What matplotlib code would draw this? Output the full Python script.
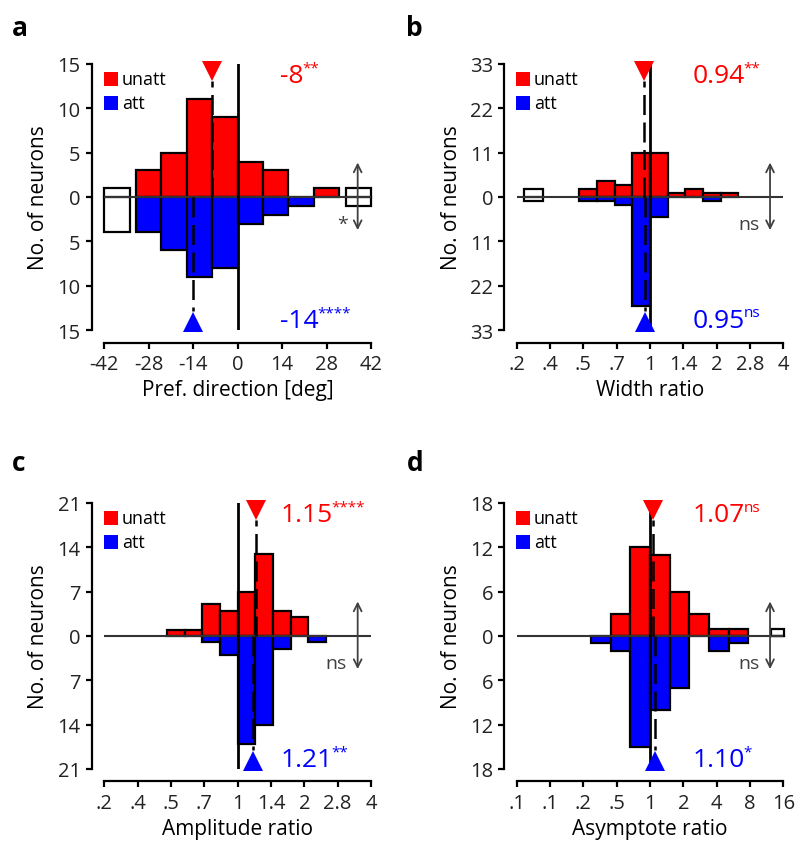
import numpy as np
import matplotlib.pyplot as plt

plt.rcParams['font.family'] = ['Open Sans', 'DejaVu Sans']

# --- data ---------------------------------------------------------------
# a: preferred direction difference [deg]
edges_a = [-32, -24, -16, -8, 0, 8, 16, 24, 32]
unatt_a = [3, 5, 11, 9, 4, 3, 0, 1]
att_a = [4, 6, 9, 8, 3, 2, 1, 0]
outl_a = [(-42, -34, 1, 4), (34, 42, 1, 1)]   # left, right, unatt, att
mean_a = (-8, -14)                              # unatt, att

# b: width ratio (bins in log2 units)
edges_b = [-1.06, -0.795, -0.53, -0.265, 0, 0.265, 0.53, 0.795, 1.06, 1.325]
unatt_b = [2, 4, 3, 11, 11, 1, 2, 1, 1]
att_b = [1, 1, 2, 27, 5, 0, 0, 1, 0]
outl_b = [(-1.885, -1.61, 2, 1)]
mean_b = (0.94, 0.95)

# c: amplitude ratio
edges_c = [-1.06, -0.795, -0.53, -0.265, 0, 0.265, 0.53, 0.795, 1.06, 1.325]
unatt_c = [1, 1, 5, 4, 7, 13, 4, 3, 0]
att_c = [0, 0, 1, 3, 17, 14, 2, 0, 1]
outl_c = []
mean_c = (1.21, 1.17)

# d: asymptote ratio
edges_d = [-1.77, -1.18, -0.59, 0, 0.59, 1.18, 1.77, 2.36, 2.95]
unatt_d = [0, 3, 12, 11, 6, 3, 1, 1]
att_d = [1, 2, 15, 10, 7, 0, 2, 1]
outl_d = [(3.63, 4.02, 1, 0)]
mean_d = (1.07, 1.10)

ticks_a = [-42, -28, -14, 0, 14, 28, 42]
ticks_bc = [-2, -1.5, -1, -0.5, 0, 0.5, 1, 1.5, 2]
labels_bc = ['.2', '.4', '.5', '.7', '1', '1.4', '2', '2.8', '4']
ticks_d = [-4, -3, -2, -1, 0, 1, 2, 3, 4]
labels_d = ['.1', '.1', '.2', '.5', '1', '2', '4', '8', '16']

RED = '#ff0000'
BLUE = '#0000ff'
GRAY = '#404040'


def stat_text(ax, y, main, sup, color):
    t = ax.text(0.66, y, main, transform=ax.transAxes, color=color,
                fontsize=19, ha='left', va='center')
    ax.annotate(sup, xy=(1.0, 1.0), xycoords=t, xytext=(-1, 2),
                textcoords='offset points', color=color, fontsize=11,
                ha='left', va='top')


def panel(ax, edges, unatt, att, outl, means, logx, xlim, ymax, xticks,
          xlabels, xlabel, txt_u, txt_a, sig, sig_x):
    edges = np.array(edges, float)
    left = edges[:-1]
    width = np.diff(edges)
    unatt = np.array(unatt)
    att = np.array(att)
    m = unatt > 0
    ax.bar(left[m], unatt[m], width=width[m], align='edge', color=RED,
           edgecolor='black', lw=1.6, zorder=2)
    m = att > 0
    ax.bar(left[m], -att[m], width=width[m], align='edge', color=BLUE,
           edgecolor='black', lw=1.6, zorder=2)
    for l, r, u, a in outl:
        ax.bar(l, u + a, bottom=-a, width=r - l, align='edge', color='white',
               edgecolor='black', lw=1.6, zorder=2, clip_on=False)
        ax.plot([l, r], [0, 0], color='black', lw=1.6, zorder=2,
                clip_on=False)

    ax.axhline(0, color='#333333', lw=1.5, zorder=3)
    ax.axvline(0, color='black', lw=2, zorder=4)

    mu, ma = means
    if logx:
        mu, ma = np.log2(mu), np.log2(ma)
    tr = ax.get_xaxis_transform()
    ax.plot([mu, mu], [0.5, 0.935], transform=tr, color='black', lw=1.8,
            dashes=(8, 3), zorder=5)
    ax.plot([ma, ma], [0.5, 0.07], transform=tr, color='black', lw=1.8,
            dashes=(8, 3), zorder=5)
    ax.plot(mu, 0.972, 'v', transform=tr, color=RED, ms=15, mew=0,
            clip_on=False, zorder=6)
    ax.plot(ma, 0.03, '^', transform=tr, color=BLUE, ms=15, mew=0,
            clip_on=False, zorder=6)

    stat_text(ax, 0.955, txt_u[0], txt_u[1], RED)
    stat_text(ax, 0.035, txt_a[0], txt_a[1], BLUE)

    # legend
    ax.plot(0.024, 0.943, 's', transform=ax.transAxes, color=RED, ms=10.5,
            mew=0, clip_on=False)
    ax.plot(0.024, 0.852, 's', transform=ax.transAxes, color=BLUE, ms=10.5,
            mew=0, clip_on=False)
    ax.text(0.065, 0.945, 'unatt', transform=ax.transAxes, fontsize=13,
            va='center')
    ax.text(0.065, 0.854, 'att', transform=ax.transAxes, fontsize=13,
            va='center')

    # significance arrow
    ax.annotate('', xy=(0.95, 0.365), xytext=(0.95, 0.64),
                xycoords='axes fraction',
                arrowprops=dict(arrowstyle='<->', color=GRAY, lw=1.3,
                                mutation_scale=14))
    ax.text(sig_x, 0.4, sig, transform=ax.transAxes, color=GRAY,
            fontsize=14, ha='center', va='center')

    ax.set_xlim(*xlim)
    ax.set_ylim(-ymax, ymax)
    ax.set_xticks(xticks)
    ax.set_xticklabels(xlabels)
    yt = np.linspace(-ymax, ymax, 7)
    ax.set_yticks(yt)
    ax.set_yticklabels([str(int(abs(round(v)))) for v in yt])
    ax.set_xlabel(xlabel, fontsize=15, labelpad=4)
    ax.set_ylabel('No. of neurons', fontsize=15, labelpad=6)
    for s in ['top', 'right']:
        ax.spines[s].set_visible(False)
    for s in ['left', 'bottom']:
        ax.spines[s].set_position(('outward', 9))
        ax.spines[s].set_linewidth(1.6)
    ax.tick_params(width=1.6, length=4.5, labelsize=14.5, color='black',
                   labelcolor='#222222')


fig = plt.figure(figsize=(7.97, 8.54), dpi=100)
W, H = 0.3346, 0.3115
ax_a = fig.add_axes([0.1309, 0.6124, W, H])
ax_b = fig.add_axes([0.6483, 0.6124, W, H])
ax_c = fig.add_axes([0.1309, 0.0984, W, H])
ax_d = fig.add_axes([0.6483, 0.0984, W, H])

panel(ax_a, edges_a, unatt_a, att_a, outl_a, mean_a, False, (-42, 42), 15,
      ticks_a, [str(t) for t in ticks_a], 'Pref. direction [deg]',
      ('-8', '**'), ('-14', '****'), '*', 0.895)
panel(ax_b, edges_b, unatt_b, att_b, outl_b, mean_b, True, (-2, 2), 33,
      ticks_bc, labels_bc, 'Width ratio',
      ('0.94', '**'), ('0.95', 'ns'), 'ns', 0.87)
panel(ax_c, edges_c, unatt_c, att_c, outl_c, mean_c, True, (-2, 2), 21,
      ticks_bc, labels_bc, 'Amplitude ratio',
      ('1.15', '****'), ('1.21', '**'), 'ns', 0.87)
panel(ax_d, edges_d, unatt_d, att_d, outl_d, mean_d, True, (-4, 4), 18,
      ticks_d, labels_d, 'Asymptote ratio',
      ('1.07', 'ns'), ('1.10', '*'), 'ns', 0.87)

for lab, x, y in [('a', 0.015, 0.958), ('b', 0.51, 0.958),
                  ('c', 0.015, 0.448), ('d', 0.51, 0.448)]:
    fig.text(x, y, lab, fontsize=19, fontweight='bold')

fig.savefig('out.png', dpi=100)
